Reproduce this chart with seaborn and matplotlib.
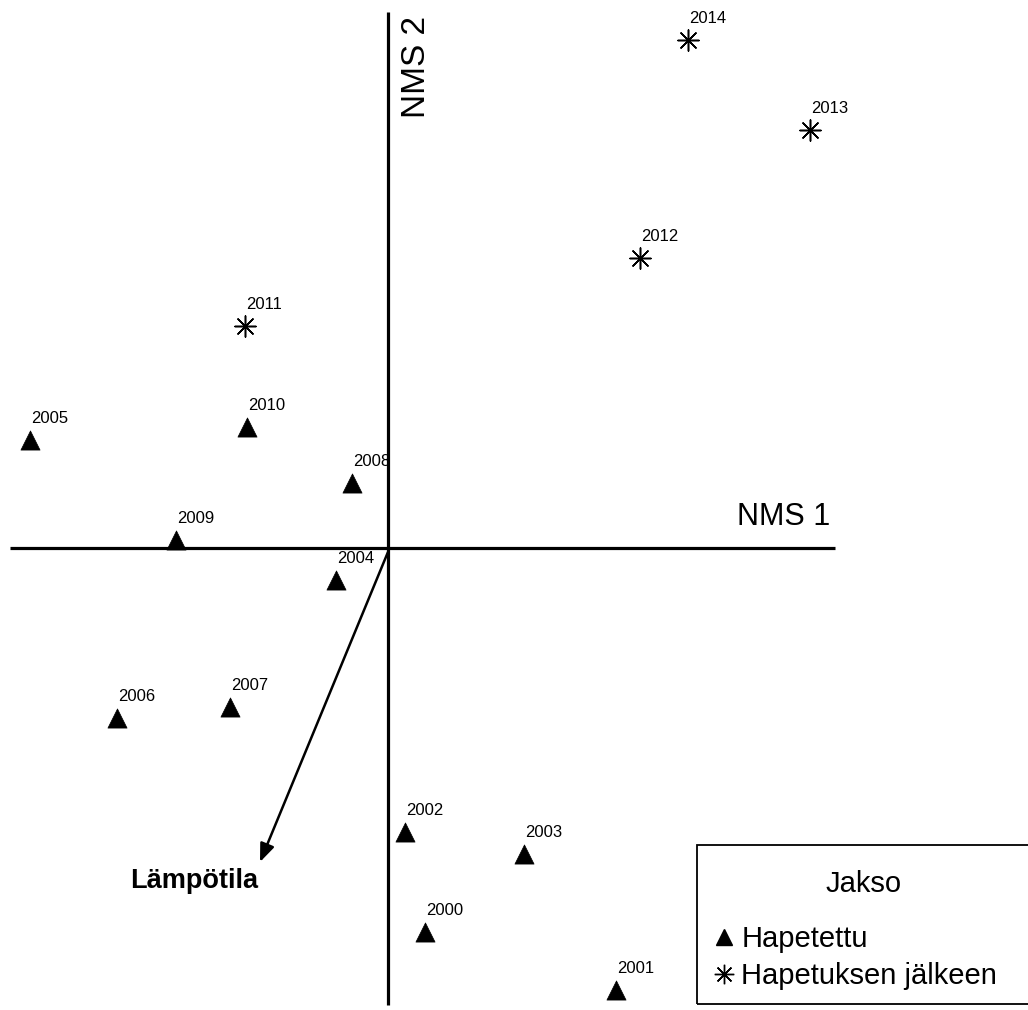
import pandas as pd
import matplotlib.pyplot as plt
import seaborn as sns
from matplotlib.lines import Line2D
from matplotlib.patches import Rectangle

# --- Data (NMS ordination scores) ---
years_before = ["2000", "2001", "2002", "2003", "2004", "2005", "2006",
                "2007", "2008", "2009", "2010"]
nms1_before = [0.185, 1.14, 0.085, 0.68, -0.26, -1.79, -1.355,
               -0.79, -0.18, -1.06, -0.705]
nms2_before = [-1.92, -2.21, -1.42, -1.53, -0.16, 0.54, -0.85,
               -0.795, 0.325, 0.04, 0.605]

years_after = ["2011", "2012", "2013", "2014"]
nms1_after = [-0.715, 1.26, 2.11, 1.50]
nms2_after = [1.11, 1.45, 2.09, 2.54]

# environmental vector
vector_name = "Lämpötila"
vector_xy = (-0.64, -1.57)

legend_title = "Jakso"
period_labels = ["Hapetettu", "Hapetuksen jälkeen"]

sns.set_style("white")
plt.rcParams['font.family'] = ['Liberation Sans', 'DejaVu Sans']
plt.rcParams['text.color'] = 'black'

df_before = pd.DataFrame({"NMS1": nms1_before, "NMS2": nms2_before, "Vuosi": years_before})
df_after = pd.DataFrame({"NMS1": nms1_after, "NMS2": nms2_after, "Vuosi": years_after})

W, H = 1028, 1010
fig = plt.figure(figsize=(W / 100, H / 100), dpi=100)
ax = fig.add_axes([0, 0, 1, 1])
ax.set_xlim(-388 / 200, (W - 388) / 200)
ax.set_ylim(-(H - 548) / 200, 548 / 200)
ax.axis("off")

# ordination axes through the origin
ax.plot([-1.89, 2.235], [0, 0], color="black", lw=2.3, solid_capstyle="butt")
ax.plot([0, 0], [-2.285, 2.68], color="black", lw=2.3, solid_capstyle="butt")
ax.text(2.21, 0.115, "NMS 1", fontsize=22, ha="right", va="baseline")
ax.text(0.22, 2.66, "NMS 2", fontsize=24, rotation=90, ha="right", va="top")

# sites
sns.scatterplot(data=df_before, x="NMS1", y="NMS2", marker="^", s=190,
                color="black", edgecolor="black", linewidth=0.5, ax=ax, legend=False)
ax.scatter(df_after["NMS1"], df_after["NMS2"], marker=(8, 2, 0), s=230,
           color="black", linewidths=1.1)

for d in (df_before, df_after):
    for _, r in d.iterrows():
        ax.annotate(r["Vuosi"], (r["NMS1"], r["NMS2"]), xytext=(1, 17),
                    textcoords="offset pixels", fontsize=12, ha="left", va="baseline")

# temperature vector
ax.annotate("", xy=vector_xy, xytext=(0, -0.02),
            arrowprops=dict(arrowstyle="-|>,head_length=0.55,head_width=0.22",
                            color="black", lw=1.8,
                            mutation_scale=20, shrinkA=0, shrinkB=0))
ax.text(-1.29, -1.70, vector_name, fontsize=19.5, fontweight="bold",
        ha="left", va="baseline")

# legend (frame drawn separately, it runs off the right edge)
fig.patches.append(Rectangle((697 / W, 1 - 1004 / H), (W + 10 - 697) / W, (1004 - 845) / H,
                             transform=fig.transFigure, fill=False,
                             edgecolor="black", lw=1.3))
fig.text(864 / W, 1 - 892 / H, legend_title, fontsize=21, ha="center", va="baseline")
handles = [
    Line2D([], [], marker="^", ls="none", color="black", markersize=12),
    Line2D([], [], marker=(8, 2, 0), ls="none", color="black", markersize=14,
           markeredgewidth=1.0),
]
leg = ax.legend(handles, period_labels, loc="upper left",
                bbox_to_anchor=(693 / W, 1 - 897 / H),
                bbox_transform=fig.transFigure, fontsize=21,
                frameon=False, handlelength=0.25, handletextpad=0.45,
                labelspacing=0.31, borderpad=0.95, borderaxespad=0)

fig.savefig("out.png", dpi=100)
